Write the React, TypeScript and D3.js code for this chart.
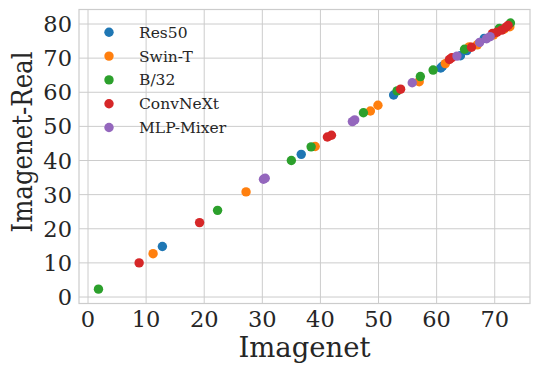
import React, { useEffect, useRef } from 'react'
import * as d3 from 'd3'

// [Imagenet, Imagenet-Real] pairs per model family
const res50 = [[12.8, 14.8], [36.7, 41.8], [52.6, 59.2], [60.7, 67.1], [61.0, 67.6], [64.1, 70.7], [65.2, 72.2], [68.2, 75.8]]
const swinT = [[11.2, 12.7], [27.2, 30.8], [39.1, 44.1], [48.6, 54.5], [49.9, 56.2], [57.0, 63.1], [61.5, 68.4], [65.6, 73.3], [67.0, 73.9], [69.8, 76.8], [71.6, 78.5], [72.6, 79.2]]
const b32 = [[1.8, 2.3], [22.3, 25.4], [35.0, 40.0], [38.4, 44.0], [47.4, 54.0], [53.2, 60.4], [57.2, 64.6], [59.4, 66.5], [64.8, 72.6], [70.8, 78.7], [72.7, 80.3]]
const convnext = [[8.8, 10.0], [19.2, 21.8], [41.2, 46.9], [41.9, 47.4], [53.8, 60.9], [62.2, 69.6], [62.6, 70.1], [66.0, 73.2], [69.6, 77.2], [70.4, 77.6], [71.2, 78.2], [71.9, 79.0], [72.3, 79.6]]
const mlpMixer = [[30.2, 34.5], [30.5, 34.8], [45.5, 51.4], [45.9, 51.9], [55.8, 62.8], [63.5, 70.6], [67.4, 74.6], [68.6, 75.7], [69.2, 76.3]]

const seriesNames = ['Res50', 'Swin-T', 'B/32', 'ConvNeXt', 'MLP-Mixer']
const seriesData = [res50, swinT, b32, convnext, mlpMixer]
const xTicks = [0, 10, 20, 30, 40, 50, 60, 70]
const yTicks = [0, 10, 20, 30, 40, 50, 60, 70, 80]

const W = 540, H = 374
const margin = { top: 9.5, right: 10, bottom: 70.5, left: 79 }
const font = '"DejaVu Serif", serif'

export default function App() {
    const ref = useRef<SVGSVGElement>(null)

    useEffect(() => {
        const svg = d3.select(ref.current)
        svg.selectAll('*').remove()

        const x = d3.scaleLinear().domain([-1.55, 76.07]).range([margin.left, W - margin.right])
        const y = d3.scaleLinear().domain([-1.9, 84.25]).range([H - margin.bottom, margin.top])
        const color = d3.scaleOrdinal<string>().domain(seriesNames)
            .range(['#1f77b4', '#ff7f0e', '#2ca02c', '#d62728', '#9467bd'])

        svg.append('rect')
            .attr('width', W).attr('height', H).attr('fill', '#fff')

        // grid
        svg.append('g').selectAll('line').data(xTicks).join('line')
            .attr('x1', d => x(d)).attr('x2', d => x(d))
            .attr('y1', margin.top).attr('y2', H - margin.bottom)
            .attr('stroke', '#cccccc').attr('stroke-width', 1)
        svg.append('g').selectAll('line').data(yTicks).join('line')
            .attr('x1', margin.left).attr('x2', W - margin.right)
            .attr('y1', d => y(d)).attr('y2', d => y(d))
            .attr('stroke', '#cccccc').attr('stroke-width', 1)

        // frame
        svg.append('rect')
            .attr('x', margin.left).attr('y', margin.top)
            .attr('width', W - margin.left - margin.right)
            .attr('height', H - margin.top - margin.bottom)
            .attr('fill', 'none').attr('stroke', '#cccccc').attr('stroke-width', 1.2)

        // tick labels
        svg.append('g').selectAll('text').data(xTicks).join('text')
            .attr('x', d => x(d)).attr('y', 327)
            .attr('text-anchor', 'middle')
            .style('font-family', font).style('font-size', '22.5px').attr('fill', '#262626')
            .text(d => d)
        svg.append('g').selectAll('text').data(yTicks).join('text')
            .attr('x', 72).attr('y', d => y(d))
            .attr('dy', '0.36em')
            .attr('text-anchor', 'end')
            .style('font-family', font).style('font-size', '22.5px').attr('fill', '#262626')
            .text(d => d)

        // axis titles
        svg.append('text')
            .attr('x', (margin.left + W - margin.right) / 2).attr('y', 357)
            .attr('text-anchor', 'middle')
            .style('font-family', font).style('font-size', '27.5px').attr('fill', '#262626')
            .text('Imagenet')
        svg.append('text')
            .attr('transform', `translate(32,${142}) rotate(-90)`)
            .attr('text-anchor', 'middle')
            .style('font-family', font).style('font-size', '27px').attr('fill', '#262626')
            .attr('textLength', 181).attr('lengthAdjust', 'spacingAndGlyphs')
            .text('Imagenet-Real')

        // points
        seriesData.forEach((pts, i) => {
            svg.append('g').selectAll('circle').data(pts).join('circle')
                .attr('cx', d => x(d[0])).attr('cy', d => y(d[1]))
                .attr('r', 4.7)
                .attr('fill', color(seriesNames[i]))
        })

        // legend
        seriesNames.forEach((name, i) => {
            svg.append('circle')
                .attr('cx', 109).attr('cy', 32.3 + 23.8 * i).attr('r', 4.7)
                .attr('fill', color(name))
            svg.append('text')
                .attr('x', 139).attr('y', 32.3 + 23.8 * i).attr('dy', '0.36em')
                .style('font-family', font).style('font-size', '15.5px').attr('fill', '#262626')
                .text(name)
        })
    }, [])

    return (
        <svg ref={ref} width={W} height={H} style={{ position: 'absolute', left: 0, top: 0 }} />
    )
}
